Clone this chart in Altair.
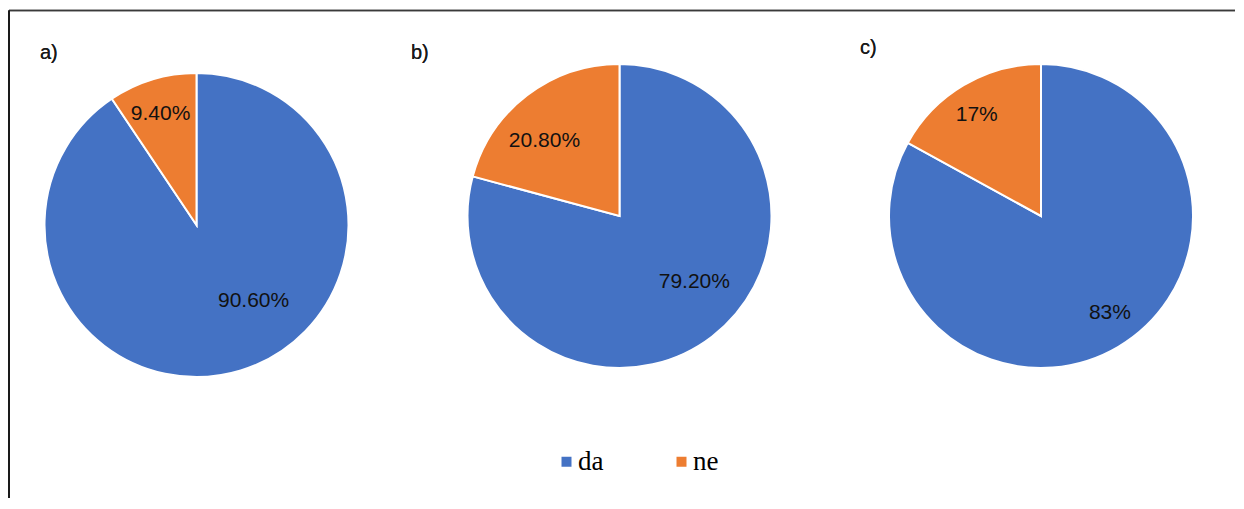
import altair as alt
import pandas as pd

# ---- data ----
panels = ["a)", "b)", "c)"]
categories = ["da", "ne"]
da_values = [90.6, 79.2, 83.0]
ne_values = [9.4, 20.8, 17.0]
da_labels = ["90.60%", "79.20%", "83%"]
ne_labels = ["9.40%", "20.80%", "17%"]

colors = ["#4472C4", "#ED7D31"]
TEXT_FONT = "Liberation Sans"
LEGEND_FONT = "Liberation Serif"

# ---- per-panel layout / styling ----
styles = [
    dict(width=375, height=434, tx=31, ty=51, da_r=95, da_off=-0.349, ne_r=117, ne_off=-0.017),
    dict(width=471, height=416, tx=27, ty=51, da_r=100, da_off=-0.192, ne_r=106, ne_off=-0.133),
    dict(width=372, height=416, tx=5, ty=46, da_r=119, da_off=-0.084, ne_r=120, ne_off=-0.031),
]

legend = alt.Legend(
    orient="none", legendX=544, legendY=440, direction="horizontal", title=None,
    symbolType="square", symbolSize=100, symbolStrokeWidth=0,
    labelFont=LEGEND_FONT, labelFontSize=27, labelColor="#000000",
    columnPadding=64, labelOffset=alt.ExprRef(expr="-2"), padding=0,
)


def make_panel(i):
    st = styles[i]
    df = pd.DataFrame({
        "cat": categories,
        "value": [da_values[i], ne_values[i]],
        "label": [da_labels[i], ne_labels[i]],
        "order": [0, 1],
    })
    theta = alt.Theta("value:Q", stack=True)
    order = alt.Order("order:Q")

    arcs = alt.Chart(df).mark_arc(outerRadius=152, stroke="white", strokeWidth=2).encode(
        theta=theta,
        order=order,
        color=alt.Color("cat:N", scale=alt.Scale(domain=categories, range=colors), legend=legend),
    )

    def lab(cat, r, off):
        return alt.Chart(df).mark_text(
            radius=r, thetaOffset=off, font=TEXT_FONT, fontSize=21, color="#111111",
            align="center", baseline="middle",
        ).encode(
            theta=theta,
            order=order,
            detail="cat:N",
            text=alt.condition(f"datum.cat == '{cat}'", "label:N", alt.value("")),
        )

    name = alt.Chart(df).mark_text(
        align="left", baseline="alphabetic", font=TEXT_FONT, fontSize=20, color="#1a1a1a"
    ).encode(x=alt.value(st["tx"]), y=alt.value(st["ty"]), text=alt.value(panels[i]))

    layers = [arcs, lab("da", st["da_r"], st["da_off"]), lab("ne", st["ne_r"], st["ne_off"]), name]

    if i == 0:
        frame_top = alt.Chart(df).mark_rule(color="#3a3a3a", strokeWidth=1.6).encode(
            x=alt.value(0), x2=alt.value(1226), y=alt.value(2.5)
        )
        frame_left = alt.Chart(df).mark_rule(color="#1a1a1a", strokeWidth=2).encode(
            x=alt.value(0), y=alt.value(2.5), y2=alt.value(490)
        )
        layers += [frame_top, frame_left]

    return alt.layer(*layers).properties(width=st["width"], height=st["height"])


chart = alt.hconcat(
    make_panel(0), make_panel(1), make_panel(2), spacing=0, bounds="flush"
).configure_view(stroke=None).properties(padding=0, background="white")

chart.save("out.html", embed_options={"renderer": "svg", "actions": False})
